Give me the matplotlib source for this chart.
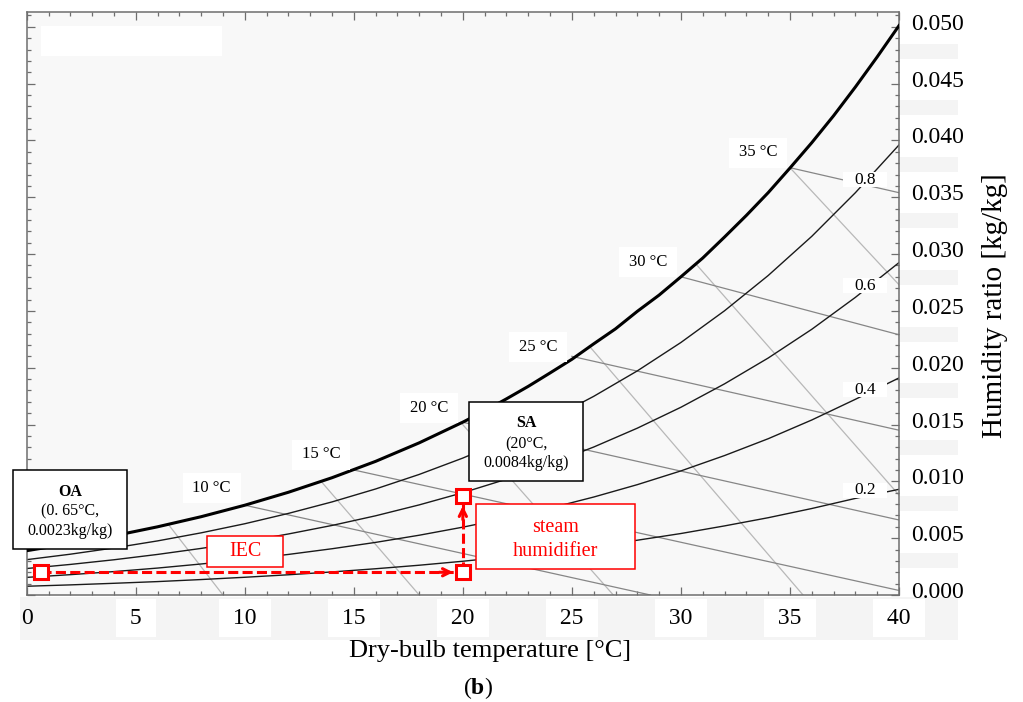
import matplotlib
matplotlib.use('Agg')
import matplotlib.pyplot as plt
import matplotlib.patches as patches
from matplotlib.ticker import MultipleLocator, FormatStrFormatter
from matplotlib.transforms import Affine2D, ScaledTranslation

plt.rcParams['font.family'] = ['Liberation Serif', 'DejaVu Serif']
plt.rcParams['mathtext.fontset'] = 'custom'
plt.rcParams['mathtext.rm'] = 'Liberation Serif'
plt.rcParams['mathtext.bf'] = 'Liberation Serif:bold'

# dry-bulb temperature grid [°C] and humidity ratio curves [kg/kg]
temps = [0, 2, 4, 6, 8, 10, 12, 14, 16, 18, 20, 22, 24, 26, 28, 30, 32, 34, 36, 38, 40]
sat_temps = [0, 2, 4, 6, 8, 10, 12, 14, 16, 18, 20, 21, 22, 23, 24, 25, 26, 27, 28, 29, 30,
             31, 32, 33, 34, 35, 36, 37, 38, 39, 40]
w_sat = [0.00390, 0.00452, 0.00521, 0.00600, 0.00689, 0.00790, 0.00904, 0.01032, 0.01176,
         0.01339, 0.01521, 0.01620, 0.01726, 0.01836, 0.01954, 0.02074, 0.02210, 0.02342,
         0.02496, 0.02639, 0.02800, 0.02965, 0.03150, 0.03340, 0.03540, 0.03757, 0.03980,
         0.04217, 0.04470, 0.04735, 0.05010]
w_rh80 = [0.00311, 0.00359, 0.00414, 0.00476, 0.00547, 0.00627, 0.00718, 0.00819, 0.00933,
          0.01061, 0.01205, 0.01367, 0.01546, 0.01748, 0.01972, 0.02222, 0.02501, 0.02811,
          0.03156, 0.03540, 0.03960]
w_rh60 = [0.00233, 0.00269, 0.00310, 0.00357, 0.00410, 0.00469, 0.00537, 0.00612, 0.00697,
          0.00793, 0.00900, 0.01019, 0.01153, 0.01302, 0.01468, 0.01652, 0.01858, 0.02085,
          0.02338, 0.02619, 0.02925]
w_rh40 = [0.00155, 0.00179, 0.00206, 0.00237, 0.00273, 0.00312, 0.00357, 0.00407, 0.00463,
          0.00526, 0.00597, 0.00676, 0.00764, 0.00862, 0.00971, 0.01092, 0.01227, 0.01375,
          0.01540, 0.01722, 0.01910]
w_rh20 = [0.00077, 0.00089, 0.00103, 0.00118, 0.00136, 0.00156, 0.00178, 0.00203, 0.00231,
          0.00262, 0.00297, 0.00336, 0.00380, 0.00428, 0.00482, 0.00541, 0.00608, 0.00680,
          0.00761, 0.00850, 0.00930]
rh_curves = [w_rh20, w_rh40, w_rh60, w_rh80]
rh_labels = ['0.2', '0.4', '0.6', '0.8']

# wet-bulb lines (start on the saturation curve)
wb_temps = [10, 15, 20, 25, 30, 35]
wb_start_w = [0.0079, 0.0110, 0.0152, 0.0210, 0.0280, 0.0376]
wb_end_t = [28.6, 40, 40, 40, 40, 40]
wb_end_w = [0.0, 0.0004, 0.0066, 0.0145, 0.0229, 0.0354]

# specific volume lines
vol_start_t = [6.5, 13.5, 19.9, 25.8, 30.7, 35.0]
vol_start_w = [0.0062, 0.0100, 0.0152, 0.0219, 0.0291, 0.0376]
vol_end_t = [9.0, 18.0, 26.9, 35.6, 40, 40]
vol_end_w = [0.0, 0.0, 0.0, 0.0, 0.0088, 0.0273]

# process: OA -> IEC -> steam humidifier -> SA
proc_t = [0.65, 20, 20]
proc_w = [0.0020, 0.0020, 0.0087]

W, H = 1023, 702
fig = plt.figure(figsize=(W / 100, H / 100), dpi=100)
pic = Affine2D().scale(1, -1).translate(0, H)   # picture pixel coords (origin top-left)

ax = fig.add_axes([26.7 / W, (H - 595) / H, (899 - 26.7) / W, (595 - 12) / H])
ax.set_facecolor('#f8f8f8')
ax.set_xlim(0, 40)
ax.set_ylim(0, 0.0513)


def rect(x0, y0, x1, y1, fc='white', ec='none', lw=1.1, z=4, target=ax):
    r = patches.Rectangle((x0, y0), x1 - x0, y1 - y0, transform=pic, facecolor=fc,
                          edgecolor=ec, lw=lw, zorder=z, clip_on=False)
    if target is ax:
        ax.add_patch(r)
    else:
        fig.add_artist(r)


# stray white patch top-left
rect(41, 26, 222, 56, z=0.5)

for t0, w0, t1, w1 in zip(vol_start_t, vol_start_w, vol_end_t, vol_end_w):
    ax.plot([t0, t1], [w0, w1], color='#b8b8b8', lw=0.9, zorder=1.5)
for t0, w0, t1, w1 in zip(wb_temps, wb_start_w, wb_end_t, wb_end_w):
    ax.plot([t0, t1], [w0, w1], color='#868686', lw=0.9, zorder=1.6)
for w in rh_curves:
    ax.plot(temps, w, color='#1a1a1a', lw=1.0, zorder=2)
ax.plot(sat_temps, w_sat, color='black', lw=2.2, zorder=3)

# wet-bulb labels
wb_label_px = [(211.5, 488), (321, 454.5), (429, 407.5), (538, 347), (648, 262), (758, 152.5)]
for t, (cx, cy) in zip(wb_temps, wb_label_px):
    rect(cx - 29, cy - 15, cx + 29, cy + 15)
    ax.text(cx, cy, f'{t} °C', transform=pic, ha='center', va='center', fontsize=12, zorder=5)

# relative humidity labels
rh_label_px = [(865, 490), (865, 389.5), (865, 285.5), (865, 179.5)]
for lab, (cx, cy) in zip(rh_labels, rh_label_px):
    rect(cx - 22, cy - 7.5, cx + 22, cy + 7.5)
    ax.text(cx, cy, lab, transform=pic, ha='center', va='center', fontsize=12.5, zorder=5)

# state point boxes
rect(13, 470, 127, 549, ec='black', z=6)
ax.text(70, 492, 'OA', transform=pic, ha='center', va='center', fontsize=11.5,
        fontweight='bold', zorder=7)
ax.text(70, 511, '(0. 65°C,', transform=pic, ha='center', va='center', fontsize=11.5, zorder=7)
ax.text(70, 531, '0.0023kg/kg)', transform=pic, ha='center', va='center', fontsize=11.5, zorder=7)

rect(469, 402, 583, 481, ec='black', z=6)
ax.text(526, 423, 'SA', transform=pic, ha='center', va='center', fontsize=11.5,
        fontweight='bold', zorder=7)
ax.text(526, 444, '(20°C,', transform=pic, ha='center', va='center', fontsize=11.5, zorder=7)
ax.text(526, 463, '0.0084kg/kg)', transform=pic, ha='center', va='center', fontsize=11.5, zorder=7)

rect(207, 536, 283, 567, ec='red', z=6)
ax.text(245, 552, 'IEC', transform=pic, ha='center', va='center', fontsize=14.5,
        color='red', zorder=7)
rect(476, 504, 635, 569, ec='red', z=6)
ax.text(555.5, 527, 'steam', transform=pic, ha='center', va='center', fontsize=14.5,
        color='red', zorder=7)
ax.text(555.5, 551, 'humidifier', transform=pic, ha='center', va='center', fontsize=14.5,
        color='red', zorder=7)

# process lines with arrows
for i in range(2):
    ax.plot(proc_t[i:i + 2], proc_w[i:i + 2], color='red', lw=2.2, dashes=(3.3, 1.4), zorder=8)
ax.annotate('', xy=(proc_t[1], proc_w[1]), xytext=(-17, 0), textcoords='offset points',
            arrowprops=dict(arrowstyle='->', color='red', lw=2.2, shrinkA=0, shrinkB=7,
                            mutation_scale=13), zorder=9)
ax.annotate('', xy=(proc_t[2], proc_w[2]), xytext=(0, -17), textcoords='offset points',
            arrowprops=dict(arrowstyle='->', color='red', lw=2.2, shrinkA=0, shrinkB=7,
                            mutation_scale=13), zorder=9)
ax.plot(proc_t, proc_w, linestyle='none', marker='s', ms=10.6, mfc='white', mec='red',
        mew=2.2, zorder=10, clip_on=False)

# axes styling
for sp in ax.spines.values():
    sp.set_color('#6e6e6e')
    sp.set_linewidth(1.1)
ax.xaxis.set_major_locator(MultipleLocator(5))
ax.xaxis.set_minor_locator(MultipleLocator(1))
ax.yaxis.set_major_locator(MultipleLocator(0.005))
ax.yaxis.set_minor_locator(MultipleLocator(0.001))
ax.yaxis.set_major_formatter(FormatStrFormatter('%.3f'))
ax.tick_params(which='both', direction='in', top=True, bottom=True, left=True, right=True,
               labelleft=False, labelright=True, color='#6e6e6e', width=0.9)
ax.tick_params(which='major', length=6, labelsize=17, pad=9)
ax.tick_params(which='minor', length=3)

ax.set_xticks(range(0, 41, 5))
ax.set_xticklabels(['0'] + [f' {v} ' for v in range(5, 41, 5)])
for i, lbl in enumerate(ax.get_xticklabels()):
    if i > 0:
        lbl.set_bbox(dict(facecolor='white', edgecolor='none', pad=6))
shift = ScaledTranslation(0, 0.05, fig.dpi_scale_trans)
for lbl in ax.get_yticklabels():
    lbl.set_transform(lbl.get_transform() + shift)

# faint band behind x labels and strips between y labels
rect(20, 597, 958, 640, fc='#f4f4f4', z=-1, target=fig)
for k in range(10):
    yc = 22.7 + 28.3 + k * 56.6
    rect(900, yc - 7.5, 958, yc + 7.5, fc='#f4f4f4', z=-1, target=fig)

fig.text(490 / W, 1 - 651 / H, 'Dry-bulb temperature [°C]', ha='center', va='center',
         fontsize=19)
fig.text(995 / W, 1 - 306 / H, 'Humidity ratio [kg/kg]', ha='center', va='center',
         fontsize=21, rotation=90)
fig.text(478 / W, 1 - 688 / H, r'($\mathbf{b}$)', ha='center', va='center', fontsize=17)

fig.savefig('out.png', dpi=100)
